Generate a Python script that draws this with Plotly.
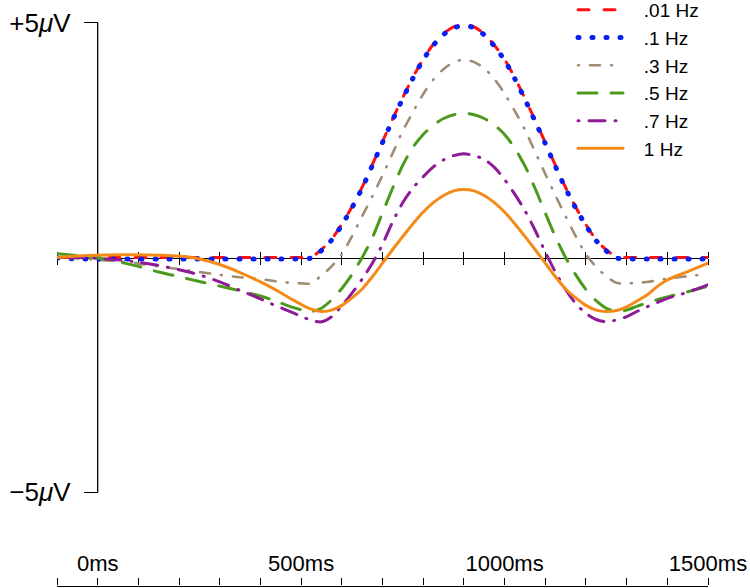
import plotly.graph_objects as go

# time points (ms)
time_ms = [-100, -50, 0, 50, 100, 150, 200, 250, 300, 350, 400,
           425, 450, 475, 500, 525, 550, 575, 600, 625, 650, 675, 700, 725, 750,
           775, 800, 825, 850, 875, 900, 925, 950, 975, 1000, 1025, 1050, 1075, 1100,
           1125, 1150, 1175, 1200, 1225, 1250, 1275, 1300, 1325, 1350, 1375,
           1400, 1450, 1500]

hz_001 = [0, 0, 0, 0, 0, 0, 0, 0, 0, 0, 0,
          0, 0, 0, 0, 0.01, 0.17, 0.39, 0.71, 1.08, 1.50, 1.98, 2.47, 2.95, 3.41,
          3.84, 4.23, 4.54, 4.77, 4.91, 4.96, 4.91, 4.76, 4.52, 4.22, 3.83, 3.39, 2.92, 2.45,
          1.96, 1.49, 1.07, 0.70, 0.38, 0.16, 0.02, 0, 0, 0, 0,
          0, 0, 0]

hz_01 = [-0.01, -0.03, -0.03, -0.03, -0.03, -0.03, -0.03, -0.03, -0.03, -0.03, -0.03,
         -0.03, -0.03, -0.03, -0.03, -0.01, 0.15, 0.37, 0.69, 1.06, 1.48, 1.96, 2.45, 2.93, 3.39,
         3.82, 4.21, 4.52, 4.75, 4.89, 4.94, 4.89, 4.74, 4.50, 4.20, 3.81, 3.37, 2.90, 2.43,
         1.94, 1.47, 1.05, 0.68, 0.36, 0.14, -0.01, -0.03, -0.03, -0.03, -0.03,
         -0.03, -0.03, -0.03]

hz_03 = [0.0, -0.02, -0.05, -0.08, -0.13, -0.19, -0.25, -0.31, -0.37, -0.42, -0.46,
         -0.49, -0.52, -0.54, -0.55, -0.55, -0.38, -0.19, 0.07, 0.45, 0.88, 1.30, 1.75, 2.22, 2.70,
         3.10, 3.48, 3.79, 4.01, 4.16, 4.21, 4.16, 4.03, 3.80, 3.49, 3.12, 2.72, 2.25, 1.78,
         1.32, 0.88, 0.45, 0.07, -0.20, -0.40, -0.54, -0.55, -0.54, -0.52, -0.49,
         -0.45, -0.40, -0.35]

hz_05 = [0.08, 0.04, -0.01, -0.09, -0.19, -0.31, -0.41, -0.51, -0.61, -0.71, -0.82,
         -0.89, -0.97, -1.05, -1.11, -1.15, -1.08, -0.90, -0.66, -0.36, 0.0, 0.42, 0.95, 1.48, 1.97,
         2.35, 2.62, 2.82, 2.96, 3.04, 3.07, 3.04, 2.96, 2.82, 2.62, 2.33, 1.95, 1.47, 0.95,
         0.44, 0.0, -0.37, -0.68, -0.92, -1.08, -1.15, -1.12, -1.04, -0.97, -0.90,
         -0.84, -0.73, -0.61]

hz_07 = [0.0, 0.0, -0.02, -0.05, -0.10, -0.17, -0.26, -0.37, -0.52, -0.70, -0.88,
         -0.98, -1.07, -1.16, -1.25, -1.34, -1.37, -1.26, -1.03, -0.76, -0.46, -0.12, 0.28, 0.76, 1.17,
         1.48, 1.72, 1.93, 2.08, 2.17, 2.21, 2.17, 2.09, 1.92, 1.66, 1.35, 1.00, 0.58, 0.12,
         -0.31, -0.68, -0.98, -1.19, -1.32, -1.37, -1.33, -1.26, -1.15, -1.05, -0.96,
         -0.87, -0.74, -0.58]

hz_1 = [0.0, 0.03, 0.05, 0.06, 0.06, 0.05, 0.03, -0.03, -0.15, -0.32, -0.52,
        -0.63, -0.75, -0.88, -1.00, -1.10, -1.15, -1.12, -1.02, -0.86, -0.67, -0.41, -0.12, 0.17, 0.45,
        0.72, 0.97, 1.17, 1.32, 1.42, 1.45, 1.42, 1.32, 1.17, 0.97, 0.72, 0.45, 0.17, -0.12,
        -0.41, -0.67, -0.86, -1.02, -1.12, -1.15, -1.13, -1.05, -0.93, -0.80, -0.62,
        -0.48, -0.30, -0.12]

series_names = [".01 Hz", ".1 Hz", ".3 Hz", ".5 Hz", ".7 Hz", "1 Hz"]
series_values = [hz_001, hz_01, hz_03, hz_05, hz_07, hz_1]
series_colors = ["#ff1010", "#0a1ef0", "#a08c72", "#4c9a1c", "#8e1a98", "#f48a18"]
series_widths = [3, 5, 2.6, 3, 3, 3]
series_dash = ["11px,15px", "1px,13px", "1px,11px,10px,11px", "19px,14px", "1px,10px,16px,10px", "solid"]

tick_ms = list(range(-100, 1501, 100))
label_ms = {0: "0ms", 500: "500ms", 1000: "1000ms", 1500: "1500ms"}
tick_text = [label_ms.get(t, "") for t in tick_ms]

y_ticks = [-5, 5]
y_tick_text = ["\u22125<i>\u03bc</i>V", "+5<i>\u03bc</i>V"]

x_range = [-100, 1500]
y_max = 5 + 22.7 / 46.96
y_min = y_max - 588 / 46.96
zero_pos = (0 - y_min) / (y_max - y_min)
bottom_pos = 2.5 / 588
yaxis_pos = (0 - x_range[0]) / (x_range[1] - x_range[0])

fig = go.Figure()
for name, vals, col, w, d in zip(series_names, series_values, series_colors, series_widths, series_dash):
    fig.add_trace(go.Scatter(
        x=time_ms, y=vals, name="\u00a0\u00a0\u00a0" + name, mode="lines",
        line=dict(color=col, width=w, dash=d, shape="spline", smoothing=0.8),
        hoverinfo="skip",
    ))

# empty helper traces so the overlaid tick axes get drawn
for xa in ["x2", "x3"]:
    fig.add_trace(go.Scatter(x=[], y=[], xaxis=xa, yaxis="y", showlegend=False,
                             mode="lines", hoverinfo="skip"))

axis_common = dict(range=x_range, showgrid=False, zeroline=False, fixedrange=True)

fig.update_layout(
    width=750, height=588,
    margin=dict(l=57, r=42, t=0, b=0, autoexpand=False),
    plot_bgcolor="white", paper_bgcolor="white",
    font=dict(family="Liberation Sans, Arial, sans-serif", color="black"),
    xaxis=dict(**axis_common, domain=[0, 1], anchor="free", position=zero_pos,
               showline=True, linecolor="black", linewidth=1.3,
               ticks="outside", ticklen=6, tickwidth=1.3, tickcolor="black",
               tickvals=tick_ms, showticklabels=False, layer="below traces"),
    xaxis2=dict(**axis_common, overlaying="x", anchor="free", position=zero_pos, side="top",
                showline=False, ticks="outside", ticklen=6, tickwidth=1.3, tickcolor="black",
                tickvals=tick_ms, showticklabels=False, layer="below traces"),
    xaxis3=dict(**axis_common, overlaying="x", anchor="free", position=bottom_pos, side="top",
                showline=True, linecolor="black", linewidth=1.3,
                ticks="outside", ticklen=7, tickwidth=1.3, tickcolor="black",
                tickvals=tick_ms, ticktext=tick_text, tickangle=0,
                tickfont=dict(size=22, color="black"), ticklabelstandoff=-1),
    yaxis=dict(range=[y_min, y_max], domain=[0, 1], anchor="free", position=yaxis_pos,
               showline=False, showgrid=False, zeroline=False, fixedrange=True,
               ticks="outside", ticklen=14, tickwidth=1.3, tickcolor="black",
               tickvals=y_ticks, ticktext=y_tick_text,
               tickfont=dict(size=26, color="black"), ticklabelstandoff=8),
    showlegend=True,
    legend=dict(xref="container", yref="paper", x=0.764, y=1.0153, xanchor="left", yanchor="top",
                bgcolor="rgba(0,0,0,0)", borderwidth=0, itemwidth=45,
                font=dict(size=19, color="black"), tracegroupgap=0),
    shapes=[dict(type="line", xref="x", yref="y", x0=0, x1=0, y0=y_ticks[0], y1=y_ticks[1],
                 line=dict(color="black", width=1.3), layer="below")],
)

post = """
var gd = document.getElementById('{plot_id}');
document.body.style.margin = '0';
function fixCaps(){
  gd.querySelectorAll('path.js-line').forEach(function(p){
    p.style.strokeLinecap = 'round';
    p.style.strokeLinejoin = 'round';
  });
}
fixCaps();
gd.on('plotly_afterplot', fixCaps);
"""

fig.write_html("out.html", post_script=post, config={"displayModeBar": False})
